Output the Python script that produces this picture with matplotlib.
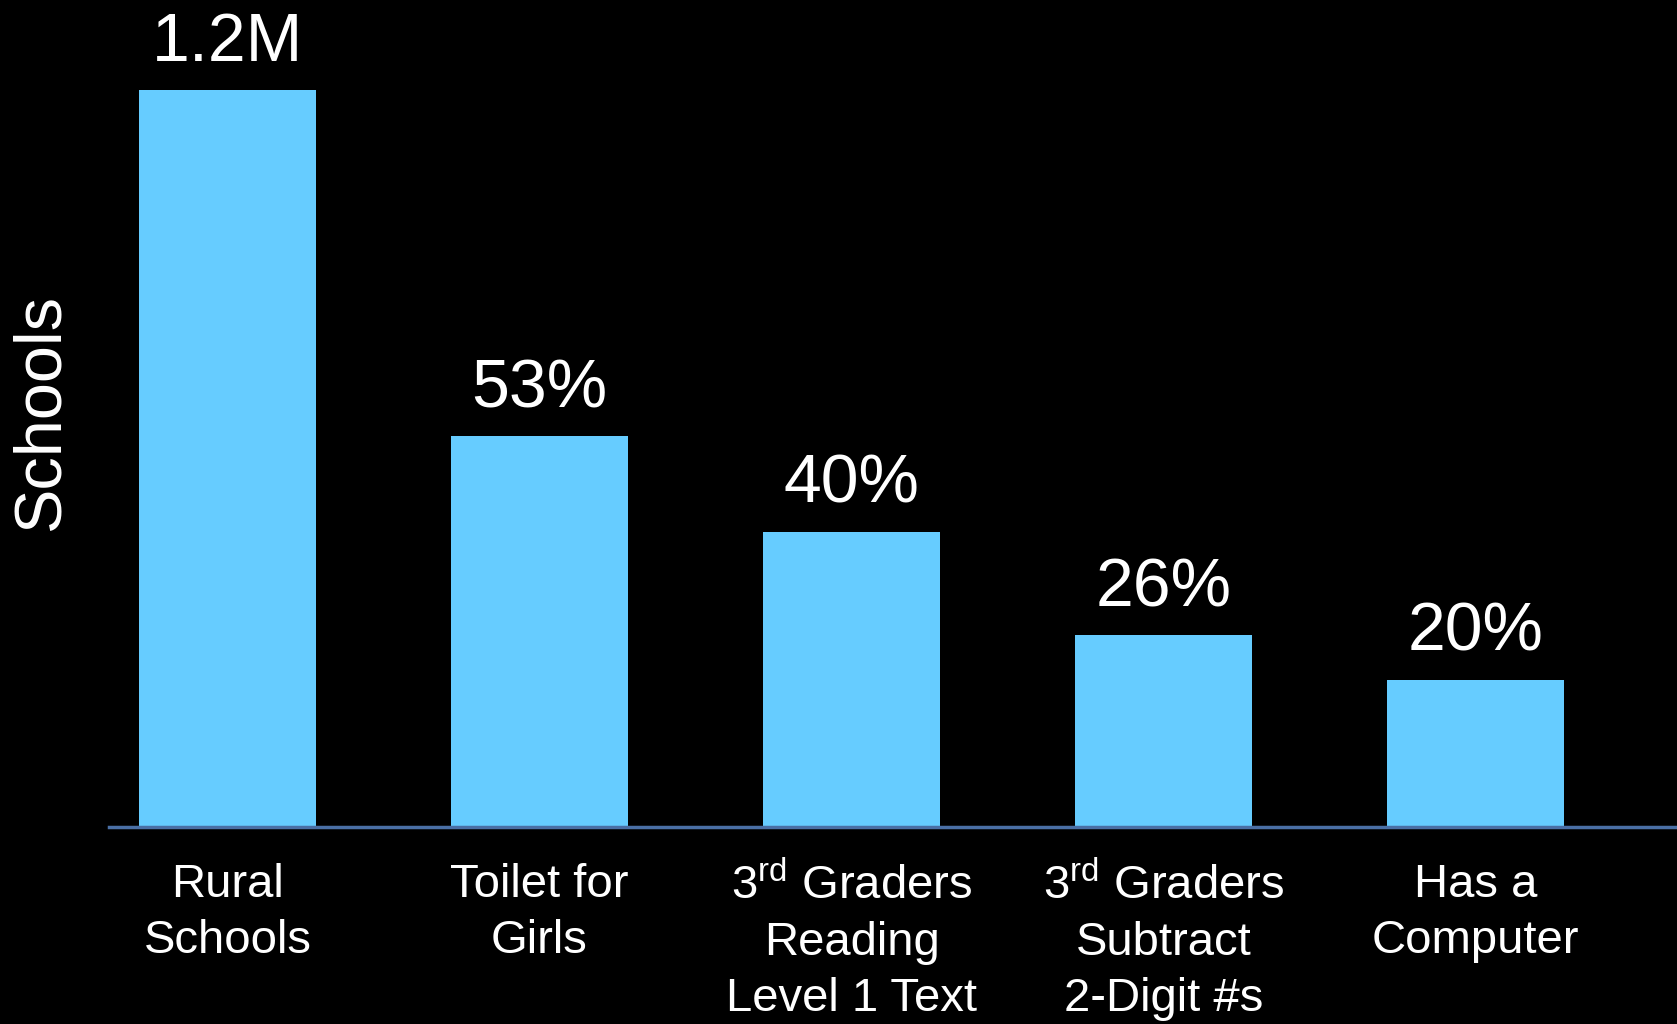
"""Rural school stats bar chart (dark slide style)."""

import matplotlib

matplotlib.use("Agg")
import matplotlib.pyplot as plt  # noqa: E402

# colours
C_BAR = "#66CCFF"
C_BG = "#000000"
C_AXIS = "#4A6FA5"
C_TEXT = "#FFFFFF"

plt.rcParams["font.family"] = ["Liberation Sans", "DejaVu Sans"]
plt.rcParams["mathtext.fontset"] = "custom"
plt.rcParams["mathtext.rm"] = "Liberation Sans"

# data: share of the 1.2M rural schools (first bar = all of them)
categories = [
    "Rural\nSchools",
    "Toilet for\nGirls",
    "3$^{\\mathrm{rd}}$ Graders\nReading\nLevel 1 Text",
    "3$^{\\mathrm{rd}}$ Graders\nSubtract\n2-Digit #s",
    "Has a\nComputer",
]
values = [100, 53, 40, 26, 20]
value_labels = ["1.2M", "53%", "40%", "26%", "20%"]

fig = plt.figure(figsize=(16.77, 10.24), dpi=100, facecolor=C_BG)
ax = fig.add_axes([0.065, 0.1924, 0.935, 0.8076], facecolor=C_BG)

x = list(range(len(categories)))
ax.bar(x, values, width=0.567, color=C_BAR, zorder=2)

for xi, v, lab in zip(x, values, value_labels):
    ax.annotate(lab, (xi, v), xytext=(0, 11), textcoords="offset points",
                ha="center", va="bottom", color=C_TEXT, fontsize=49)

ax.set_xlim(-0.38, 4.646)
ax.set_ylim(0, 112.2)
ax.set_xticks(x)
ax.set_xticklabels(categories, fontsize=34, color=C_TEXT, linespacing=1.36)
ax.tick_params(axis="x", length=0, pad=26)
ax.set_yticks([])

for side in ("top", "right", "left"):
    ax.spines[side].set_visible(False)
ax.spines["bottom"].set_color(C_AXIS)
ax.spines["bottom"].set_linewidth(2.5)

fig.text(0.025, 0.597, "Schools", rotation=90, ha="center", va="center",
         color=C_TEXT, fontsize=48)

fig.savefig("out.png", dpi=100, facecolor=C_BG)
